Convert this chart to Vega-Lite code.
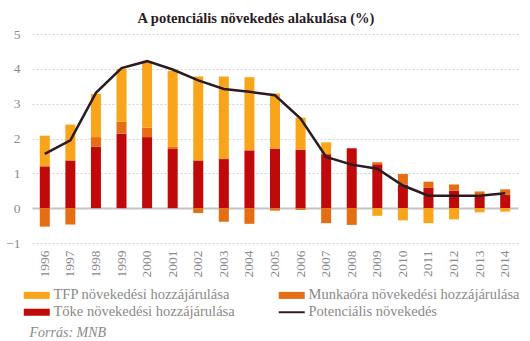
{
  "$schema": "https://vega.github.io/schema/vega-lite/v6.json",
  "autosize": {"type": "none"},
  "width": 486,
  "height": 209,
  "padding": {"left": 32, "top": 34, "right": 12, "bottom": 98},
  "background": "white",
  "config": {
    "view": {"stroke": null}
  },
  "title": {
    "text": "A potenciális növekedés alakulása (%)",
    "font": "Liberation Serif",
    "fontSize": 14.5,
    "fontWeight": "bold",
    "color": "#2b1a1f",
    "offset": 1,
    "anchor": "middle",
    "dx": -19
  },
  "datasets": {
    "bars": [
      {"year": "1996", "c": "Tőke növekedési hozzájárulása", "v": 1.20},
      {"year": "1996", "c": "Munkaóra növekedési hozzájárulása", "v": -0.53},
      {"year": "1996", "c": "TFP növekedési hozzájárulása", "v": 0.88},
      {"year": "1997", "c": "Tőke növekedési hozzájárulása", "v": 1.37},
      {"year": "1997", "c": "Munkaóra növekedési hozzájárulása", "v": -0.47},
      {"year": "1997", "c": "TFP növekedési hozzájárulása", "v": 1.03},
      {"year": "1998", "c": "Tőke növekedési hozzájárulása", "v": 1.76},
      {"year": "1998", "c": "Munkaóra növekedési hozzájárulása", "v": 0.28},
      {"year": "1998", "c": "TFP növekedési hozzájárulása", "v": 1.24},
      {"year": "1999", "c": "Tőke növekedési hozzájárulása", "v": 2.14},
      {"year": "1999", "c": "Munkaóra növekedési hozzájárulása", "v": 0.34},
      {"year": "1999", "c": "TFP növekedési hozzájárulása", "v": 1.52},
      {"year": "2000", "c": "Tőke növekedési hozzájárulása", "v": 2.04},
      {"year": "2000", "c": "Munkaóra növekedési hozzájárulása", "v": 0.27},
      {"year": "2000", "c": "TFP növekedési hozzájárulása", "v": 1.89},
      {"year": "2001", "c": "Tőke növekedési hozzájárulása", "v": 1.70},
      {"year": "2001", "c": "Munkaóra növekedési hozzájárulása", "v": 0.06},
      {"year": "2001", "c": "TFP növekedési hozzájárulása", "v": 2.18},
      {"year": "2002", "c": "Tőke növekedési hozzájárulása", "v": 1.37},
      {"year": "2002", "c": "Munkaóra növekedési hozzájárulása", "v": -0.14},
      {"year": "2002", "c": "TFP növekedési hozzájárulása", "v": 2.41},
      {"year": "2003", "c": "Tőke növekedési hozzájárulása", "v": 1.41},
      {"year": "2003", "c": "Munkaóra növekedési hozzájárulása", "v": -0.39},
      {"year": "2003", "c": "TFP növekedési hozzájárulása", "v": 2.37},
      {"year": "2004", "c": "Tőke növekedési hozzájárulása", "v": 1.66},
      {"year": "2004", "c": "Munkaóra növekedési hozzájárulása", "v": -0.45},
      {"year": "2004", "c": "TFP növekedési hozzájárulása", "v": 2.10},
      {"year": "2005", "c": "Tőke növekedési hozzájárulása", "v": 1.71},
      {"year": "2005", "c": "Munkaóra növekedési hozzájárulása", "v": -0.07},
      {"year": "2005", "c": "TFP növekedési hozzájárulása", "v": 1.58},
      {"year": "2006", "c": "Tőke növekedési hozzájárulása", "v": 1.68},
      {"year": "2006", "c": "Munkaóra növekedési hozzájárulása", "v": -0.05},
      {"year": "2006", "c": "TFP növekedési hozzájárulása", "v": 0.92},
      {"year": "2007", "c": "Tőke növekedési hozzájárulása", "v": 1.55},
      {"year": "2007", "c": "Munkaóra növekedési hozzájárulása", "v": -0.43},
      {"year": "2007", "c": "TFP növekedési hozzájárulása", "v": 0.34},
      {"year": "2008", "c": "Tőke növekedési hozzájárulása", "v": 1.72},
      {"year": "2008", "c": "Munkaóra növekedési hozzájárulása", "v": -0.48},
      {"year": "2008", "c": "TFP növekedési hozzájárulása", "v": 0.0},
      {"year": "2009", "c": "Tőke növekedési hozzájárulása", "v": 1.26},
      {"year": "2009", "c": "Munkaóra növekedési hozzájárulása", "v": 0.06},
      {"year": "2009", "c": "TFP növekedési hozzájárulása", "v": -0.22},
      {"year": "2010", "c": "Tőke növekedési hozzájárulása", "v": 0.68},
      {"year": "2010", "c": "Munkaóra növekedési hozzájárulása", "v": 0.30},
      {"year": "2010", "c": "TFP növekedési hozzájárulása", "v": -0.35},
      {"year": "2011", "c": "Tőke növekedési hozzájárulása", "v": 0.58},
      {"year": "2011", "c": "Munkaóra növekedési hozzájárulása", "v": 0.18},
      {"year": "2011", "c": "TFP növekedési hozzájárulása", "v": -0.43},
      {"year": "2012", "c": "Tőke növekedési hozzájárulása", "v": 0.50},
      {"year": "2012", "c": "Munkaóra növekedési hozzájárulása", "v": 0.18},
      {"year": "2012", "c": "TFP növekedési hozzájárulása", "v": -0.32},
      {"year": "2013", "c": "Tőke növekedési hozzájárulása", "v": 0.38},
      {"year": "2013", "c": "Munkaóra növekedési hozzájárulása", "v": 0.10},
      {"year": "2013", "c": "TFP növekedési hozzájárulása", "v": -0.12},
      {"year": "2014", "c": "Tőke növekedési hozzájárulása", "v": 0.39},
      {"year": "2014", "c": "Munkaóra növekedési hozzájárulása", "v": 0.15},
      {"year": "2014", "c": "TFP növekedési hozzájárulása", "v": -0.10}
    ],
    "line": [
      {"year": "1996", "c": "Potenciális növekedés", "v": 1.56},
      {"year": "1997", "c": "Potenciális növekedés", "v": 1.95},
      {"year": "1998", "c": "Potenciális növekedés", "v": 3.31},
      {"year": "1999", "c": "Potenciális növekedés", "v": 4.02},
      {"year": "2000", "c": "Potenciális növekedés", "v": 4.22},
      {"year": "2001", "c": "Potenciális növekedés", "v": 3.98},
      {"year": "2002", "c": "Potenciális növekedés", "v": 3.67},
      {"year": "2003", "c": "Potenciális növekedés", "v": 3.42},
      {"year": "2004", "c": "Potenciális növekedés", "v": 3.34},
      {"year": "2005", "c": "Potenciális növekedés", "v": 3.24},
      {"year": "2006", "c": "Potenciális növekedés", "v": 2.57},
      {"year": "2007", "c": "Potenciális növekedés", "v": 1.47},
      {"year": "2008", "c": "Potenciális növekedés", "v": 1.25},
      {"year": "2009", "c": "Potenciális növekedés", "v": 1.13},
      {"year": "2010", "c": "Potenciális növekedés", "v": 0.65},
      {"year": "2011", "c": "Potenciális növekedés", "v": 0.36},
      {"year": "2012", "c": "Potenciális növekedés", "v": 0.36},
      {"year": "2013", "c": "Potenciális növekedés", "v": 0.36},
      {"year": "2014", "c": "Potenciális növekedés", "v": 0.43}
    ]
  },
  "encoding": {
    "x": {
      "field": "year", "type": "ordinal",
      "scale": {"paddingInner": 0.6, "paddingOuter": 0.3},
      "axis": {
        "title": null, "labelAngle": -90, "labelAlign": "right", "labelBaseline": "middle",
        "labelFontSize": 13.5, "labelColor": "#8a8a8a", "labelOverlap": false,
        "labelFont": "Liberation Serif", "ticks": false, "domain": false, "labelPadding": 7,
        "grid": false
      }
    },
    "y": {
      "field": "v", "type": "quantitative",
      "scale": {"domain": [-1, 5], "nice": false},
      "axis": {
        "title": null, "values": [-1, 0, 1, 2, 3, 4, 5], "labelFontSize": 13.5, "labelColor": "#8a8a8a",
        "labelOverlap": false, "labelFont": "Liberation Serif", "ticks": false, "domain": false, "labelPadding": 12,
        "grid": true,
        "gridColor": {"condition": {"test": "datum.value === 0", "value": "#c4c4c4"}, "value": "#d4d4d4"},
        "gridDash": {"condition": {"test": "datum.value === 0", "value": []}, "value": [2, 2]},
        "gridWidth": {"condition": {"test": "datum.value === 0", "value": 2}, "value": 1}
      }
    }
  },
  "layer": [
    {
      "data": {"name": "bars"},
      "transform": [
        {"calculate": "indexof(['Tőke növekedési hozzájárulása','Munkaóra növekedési hozzájárulása','TFP növekedési hozzájárulása'], datum.c)", "as": "ord"}
      ],
      "mark": {"type": "bar", "width": 10},
      "encoding": {
        "order": {"field": "ord", "type": "quantitative"},
        "color": {
          "field": "c", "type": "nominal",
          "scale": {
            "domain": ["TFP növekedési hozzájárulása", "Tőke növekedési hozzájárulása", "Munkaóra növekedési hozzájárulása", "Potenciális növekedés"],
            "range": ["#f9a51b", "#c00a0a", "#e56e14", "#2b1a1f"]
          },
          "legend": {
            "title": "Forrás: MNB",
            "titleOrient": "bottom",
            "titleAnchor": "start",
            "titleFont": "Liberation Serif",
            "titleFontStyle": "italic",
            "titleFontWeight": "normal",
            "titleFontSize": 14,
            "titleColor": "#8a8a8a",
            "titlePadding": 7,
            "orient": "none",
            "legendX": -2.5,
            "legendY": 254,
            "direction": "vertical",
            "columns": 2,
            "columnPadding": 43,
            "rowPadding": 2,
            "labelFont": "Liberation Serif",
            "labelFontSize": 14.5,
            "labelColor": "#8a8a8a",
            "labelLimit": 300,
            "labelOffset": 9.5,
            "symbolSize": 169,
            "symbolStrokeWidth": 0,
            "encode": {
              "symbols": {
                "update": {
                  "shape": {"signal": "datum.value === 'Potenciális növekedés' ? 'M-2,-0.15H2V0.15H-2Z' : 'M-2,-0.54H2V0.54H-2Z'"},
                  "fill": {"scale": "color", "field": "value"},
                  "strokeWidth": {"value": 0},
                  "opacity": {"value": 1}
                }
              }
            }
          }
        }
      }
    },
    {
      "data": {"name": "line"},
      "mark": {"type": "line", "strokeWidth": 2.5},
      "encoding": {
        "color": {"field": "c", "type": "nominal"}
      }
    }
  ]
}
